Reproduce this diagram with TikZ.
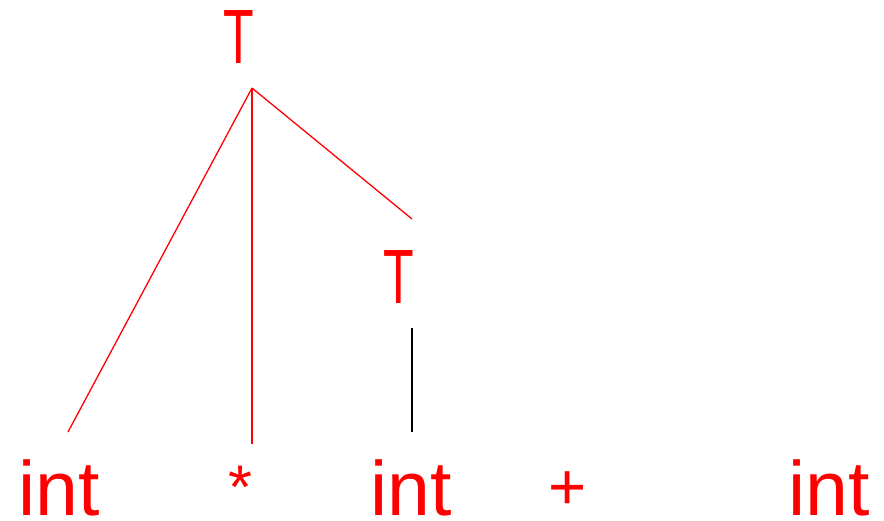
\documentclass[tikz,border=0pt]{standalone}
\usepackage{fontspec}
\setmainfont{Liberation Sans}
\usepackage{graphicx}
\begin{document}
\begin{tikzpicture}[x=1pt,y=-1pt,
  sym/.style={text=red,inner sep=0pt,anchor=base,font=\fontsize{77}{80}\selectfont},
  edge/.style={red,line width=1.3pt},
  blk/.style={black,line width=1.8pt}]
\useasboundingbox (0,0) rectangle (884,520);
\node[sym] (Ttop) at (239,63) {\scalebox{0.65}[1]{T}};
\node[sym] (Tmid) at (399,303) {\scalebox{0.65}[1]{T}};
\node[sym] (int1) at (59,515) {int};
\node[sym,anchor=center] (star) at (240,487) {\scalebox{0.8}{*}};
\node[sym,anchor=center] (plus) at (568,491) {\scalebox{0.85}{+}};
\node[sym] (int2) at (411,515) {int};
\node[sym] (int3) at (829,515) {int};
\coordinate (root) at (252,88);
\coordinate (e1) at (68,432);
\coordinate (e2) at (252,444);
\coordinate (e3) at (412,219);
\coordinate (b1) at (412,328);
\coordinate (b2) at (412,432);
\draw[edge] (root) -- (e1);
\draw[edge] (root) -- (e2);
\draw[edge] (root) -- (e3);
\draw[blk] (b1) -- (b2);
\end{tikzpicture}
\end{document}
